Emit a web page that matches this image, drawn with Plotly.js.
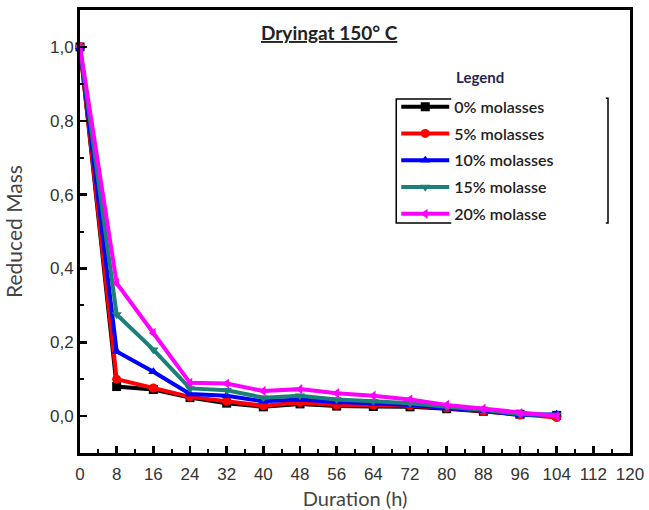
<!DOCTYPE html>
<html>
<head>
<meta charset="utf-8">
<script src="https://cdn.plot.ly/plotly-3.0.1.min.js"></script>
<style>html,body{margin:0;padding:0;background:#fff;}#chart{width:649px;height:510px;}</style>
</head>
<body>
<div id="chart"></div>
<script>
var duration = [0, 8, 16, 24, 32, 40, 48, 56, 64, 72, 80, 88, 96, 104];
var seriesNames = ['0% molasses', '5% molasses', '10% molasses', '15% molasse', '20% molasse'];
var m0  = [1.00, 0.080, 0.072, 0.050, 0.035, 0.025, 0.033, 0.027, 0.026, 0.025, 0.020, 0.013, 0.005, 0.002];
var m5  = [1.00, 0.100, 0.076, 0.052, 0.040, 0.028, 0.037, 0.030, 0.030, 0.028, 0.022, 0.013, 0.003, -0.004];
var m10 = [1.00, 0.175, 0.120, 0.060, 0.055, 0.040, 0.045, 0.038, 0.035, 0.030, 0.022, 0.015, 0.002, 0.005];
var m15 = [1.00, 0.275, 0.180, 0.075, 0.070, 0.050, 0.055, 0.045, 0.040, 0.035, 0.025, 0.017, 0.005, 0.003];
var m20 = [1.00, 0.360, 0.225, 0.090, 0.088, 0.068, 0.073, 0.062, 0.055, 0.045, 0.030, 0.020, 0.008, 0.000];
var xTickVals = [0, 8, 16, 24, 32, 40, 48, 56, 64, 72, 80, 88, 96, 104, 112, 120];
var yTickVals = [0, 0.2, 0.4, 0.6, 0.8, 1.0];
var yTickText = ['0,0', '0,2', '0,4', '0,6', '0,8', '1,0'];

var colors = ['#000000', '#ff0000', '#0000ff', '#1a8078', '#ff00ff'];
var symbols = ['square', 'circle', 'triangle-up', 'triangle-down', 'triangle-left'];
var allY = [m0, m5, m10, m15, m20];

var traces = allY.map(function (ys, i) {
  return {
    x: duration, y: ys, name: seriesNames[i], type: 'scatter', mode: 'lines+markers',
    line: {color: colors[i], width: 4},
    marker: {color: colors[i], symbol: symbols[i], size: 9},
    legendgroup: 'g' + i,
    cliponaxis: false
  };
});

var tickFont = {family: 'Liberation Sans, Arial, sans-serif', size: 17, color: '#333'};
var titleFont = {family: 'Lato, sans-serif', size: 20, color: '#444'};

var layout = {
  width: 649, height: 510,
  margin: {l: 80, r: 19, t: 10, b: 57},
  paper_bgcolor: '#fff', plot_bgcolor: '#fff',
  showlegend: true,
  legend: {
    x: 0.575, xanchor: 'left', y: 0.82, yanchor: 'top',
    bgcolor: 'rgba(0,0,0,0)', borderwidth: 0,
    traceorder: 'grouped', tracegroupgap: 3,
    itemwidth: 48,
    font: {family: 'Lato, sans-serif', size: 16, color: '#222', weight: 600}
  },
  xaxis: {
    range: [0, 120], tickvals: xTickVals, ticktext: xTickVals.map(String),
    ticks: 'inside', ticklen: 7, tickwidth: 2.5, tickcolor: '#000',
    minor: {dtick: 4, tick0: 0, ticks: 'inside', ticklen: 4, tickwidth: 2, tickcolor: '#000'},
    showline: true, linecolor: '#000', linewidth: 3, mirror: true,
    showgrid: false, zeroline: false,
    tickfont: tickFont, ticklabelstandoff: 4,
    title: {text: 'Duration (h)', font: titleFont, standoff: 10}
  },
  yaxis: {
    range: [-0.1, 1.1], tickvals: yTickVals, ticktext: yTickText,
    ticks: 'inside', ticklen: 7, tickwidth: 2.5, tickcolor: '#000',
    minor: {dtick: 0.1, tick0: 0, ticks: 'inside', ticklen: 4, tickwidth: 2, tickcolor: '#000'},
    showline: true, linecolor: '#000', linewidth: 3, mirror: true,
    showgrid: false, zeroline: false,
    tickfont: tickFont,
    title: {text: 'Reduced Mass', font: {family: 'Lato, sans-serif', size: 21, color: '#444'}, standoff: 22}
  },
  annotations: [
    {text: '<u>Dryingat 150° C</u>', xref: 'paper', yref: 'paper', x: 0.4545, y: 0.95,
     xanchor: 'center', yanchor: 'middle',
     showarrow: false, font: {family: 'Lato, sans-serif', size: 19, color: '#222', weight: 700}},
    {text: 'Legend', xref: 'paper', yref: 'paper', x: 0.68, y: 0.849,
     xanchor: 'left', yanchor: 'middle',
     showarrow: false, font: {family: 'Lato, sans-serif', size: 15, color: '#1f2a55', weight: 700}}
  ],
  shapes: [
    {type: 'path', xref: 'paper', yref: 'paper', line: {color: '#000', width: 1.5},
     path: 'M 0.675 0.799 L 0.575 0.799 L 0.575 0.519 L 0.675 0.519'},
    {type: 'path', xref: 'paper', yref: 'paper', line: {color: '#000', width: 1.5},
     path: 'M 0.956 0.801 L 0.96 0.801 L 0.96 0.519 L 0.956 0.519'}
  ]
};

Plotly.newPlot('chart', traces, layout, {displayModeBar: false, staticPlot: true});
</script>
</body>
</html>
